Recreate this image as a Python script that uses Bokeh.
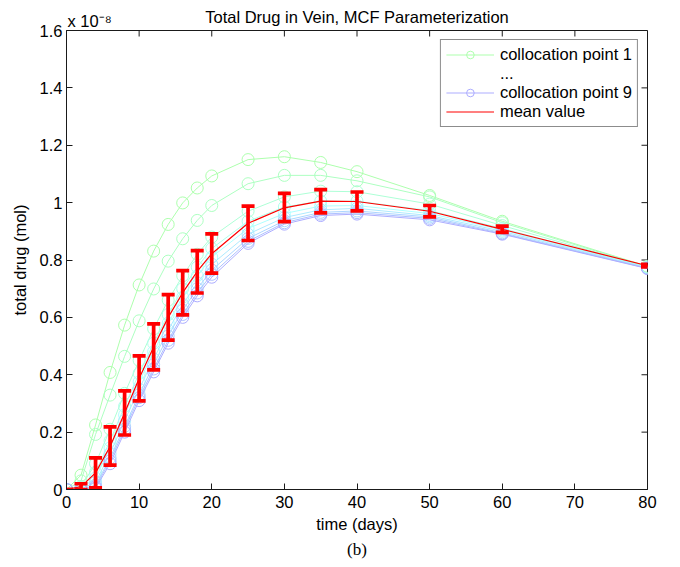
from bokeh.plotting import figure
from bokeh.models import Legend, LegendItem, FixedTicker, Title, Range1d
from bokeh.embed import file_html
from bokeh.resources import INLINE

# time (days)
days = [0, 2, 4, 6, 8, 10, 12, 14, 16, 18, 20, 25, 30, 35, 40, 50, 60, 80]

# total drug, in units of 1e-8 mol, collocation points 1..9
point_1 = [0, 0.05, 0.225, 0.408, 0.573, 0.713, 0.831, 0.924, 0.999, 1.051, 1.093, 1.15, 1.16, 1.14, 1.108, 1.025, 0.935, 0.778]
point_2 = [0, 0.03, 0.192, 0.329, 0.464, 0.588, 0.699, 0.796, 0.874, 0.938, 0.99, 1.066, 1.095, 1.095, 1.076, 1.02, 0.93, 0.777]
point_3 = [0, 0.01, 0.09, 0.21, 0.335, 0.45, 0.56, 0.66, 0.745, 0.82, 0.88, 0.97, 1.02, 1.04, 1.038, 0.995, 0.92, 0.776]
point_4 = [0, 0.006, 0.06, 0.17, 0.29, 0.405, 0.51, 0.61, 0.70, 0.775, 0.84, 0.935, 0.985, 1.005, 1.005, 0.972, 0.91, 0.775]
point_5 = [0, 0.004, 0.04, 0.145, 0.26, 0.375, 0.48, 0.58, 0.67, 0.745, 0.81, 0.91, 0.962, 0.988, 0.99, 0.962, 0.905, 0.774]
point_6 = [0, 0.002, 0.025, 0.125, 0.24, 0.35, 0.455, 0.555, 0.645, 0.72, 0.785, 0.89, 0.948, 0.975, 0.98, 0.955, 0.9, 0.773]
point_7 = [0, 0, 0.015, 0.11, 0.22, 0.33, 0.435, 0.535, 0.625, 0.70, 0.765, 0.875, 0.937, 0.966, 0.971, 0.95, 0.895, 0.772]
point_8 = [0, 0, 0.01, 0.1, 0.21, 0.32, 0.42, 0.52, 0.61, 0.685, 0.75, 0.865, 0.93, 0.96, 0.965, 0.945, 0.892, 0.771]
point_9 = [0, 0, 0.005, 0.09, 0.2, 0.31, 0.41, 0.51, 0.6, 0.675, 0.74, 0.858, 0.925, 0.955, 0.96, 0.94, 0.89, 0.77]

mean_value = [0, 0.01, 0.058, 0.15, 0.267, 0.387, 0.497, 0.60, 0.686, 0.76, 0.822, 0.928, 0.982, 1.005, 1.004, 0.97, 0.907, 0.78]
err_low = [0, 0.0, 0.006, 0.085, 0.19, 0.309, 0.417, 0.521, 0.609, 0.685, 0.754, 0.868, 0.934, 0.964, 0.971, 0.95, 0.896, 0.776]
err_high = [0, 0.02, 0.11, 0.218, 0.344, 0.466, 0.577, 0.679, 0.763, 0.833, 0.891, 0.988, 1.032, 1.045, 1.037, 0.99, 0.918, 0.785]

x_ticks = [0, 10, 20, 30, 40, 50, 60, 70, 80]
x_tick_labels = ["0", "10", "20", "30", "40", "50", "60", "70", "80"]
y_ticks = [0, 0.2, 0.4, 0.6, 0.8, 1.0, 1.2, 1.4, 1.6]
y_tick_labels = ["0", "0.2", "0.4", "0.6", "0.8", "1", "1.2", "1.4", "1.6"]

points = [point_1, point_2, point_3, point_4, point_5, point_6, point_7, point_8, point_9]

FONT = "Liberation Sans"
FS = "16.5px"
AXC = "#1a1a1a"
W, H = 680, 567
BL, BR, BT, BB = 66, 33, 30, 78
X0, X1, Y0, Y1 = 0, 80, 0, 1.6

p = figure(width=W, height=H, output_backend="svg", toolbar_location=None,
           x_range=Range1d(X0, X1), y_range=Range1d(Y0, Y1),
           min_border_left=BL, min_border_right=BR, min_border_top=BT, min_border_bottom=BB)
p.title = None
p.grid.visible = False
p.outline_line_color = AXC
p.outline_line_width = 1
p.background_fill_color = "white"
p.border_fill_color = "white"

def style_axis(ax, ticks, labels):
    ax.ticker = FixedTicker(ticks=ticks)
    ax.major_label_overrides = {t: l for t, l in zip(ticks, labels)}
    ax.major_tick_in = 6
    ax.major_tick_out = 0
    ax.minor_tick_line_color = None
    ax.axis_line_color = AXC
    ax.major_tick_line_color = AXC
    ax.major_label_text_font = FONT
    ax.major_label_text_font_size = FS
    ax.major_label_text_color = "black"
    ax.axis_label_text_font = FONT
    ax.axis_label_text_font_size = FS
    ax.axis_label_text_font_style = "normal"
    ax.axis_label_text_color = "black"

style_axis(p.xaxis[0], x_ticks, x_tick_labels)
style_axis(p.yaxis[0], y_ticks, y_tick_labels)
p.xaxis[0].axis_label = "time (days)"
p.xaxis[0].major_label_standoff = 6
p.xaxis[0].axis_label_standoff = 4
p.yaxis[0].axis_label = "total drug (mol)"
p.yaxis[0].major_label_standoff = 4
p.yaxis[0].axis_label_standoff = 8

# box ticks on top and right edges (same tick positions, 6 px inward)
tick_dx = 6 * (X1 - X0) / (W - BL - BR)
tick_dy = 6 * (Y1 - Y0) / (H - BT - BB)
p.segment(x0=x_ticks, y0=[Y1] * len(x_ticks), x1=x_ticks, y1=[Y1 - tick_dy] * len(x_ticks),
          line_color=AXC, line_width=1)
p.segment(x0=[X1] * len(y_ticks), y0=y_ticks, x1=[X1 - tick_dx] * len(y_ticks), y1=y_ticks,
          line_color=AXC, line_width=1)

# green -> cyan -> blue colour ramp, lightened
def light(i, n=9, mix=0.32):
    u = i / (n - 1)
    if u < 0.5:
        r, g, b = 0.0, 1.0, 2 * u
    else:
        r, g, b = 0.0, 2 - 2 * u, 1.0
    r, g, b = [1 - (1 - c) * mix for c in (r, g, b)]
    return "#%02x%02x%02x" % (int(r * 255), int(g * 255), int(b * 255))

line_r = []
scat_r = []
for i, vals in enumerate(points):
    c = light(i)
    lr = p.line(days, vals, line_color=c, line_width=1)
    sr = p.scatter(days, vals, marker="circle", size=12, fill_color=None,
                   line_color=c, line_width=1)
    line_r.append(lr)
    scat_r.append(sr)

mean_r = p.line(days, mean_value, line_color="red", line_width=1.2)
p.segment(x0=days, y0=err_low, x1=days, y1=err_high, line_color="red", line_width=3.7)
p.scatter(days, err_low, marker="dash", size=13, line_color="red", line_width=3.7)
p.scatter(days, err_high, marker="dash", size=13, line_color="red", line_width=3.7)

dots_r = p.line([X0], [Y0], line_alpha=0)

legend = Legend(items=[
    LegendItem(label="collocation point 1", renderers=[line_r[0], scat_r[0]]),
    LegendItem(label="...", renderers=[dots_r]),
    LegendItem(label="collocation point 9", renderers=[line_r[8], scat_r[8]]),
    LegendItem(label="mean value", renderers=[mean_r]),
], location="top_right")
legend.label_text_font = FONT
legend.label_text_font_size = FS
legend.label_text_color = "black"
legend.label_height = 19
legend.glyph_height = 19
legend.glyph_width = 48
legend.label_standoff = 6
legend.spacing = 0
legend.padding = 5
legend.margin = 9
legend.border_line_color = AXC
legend.border_line_width = 1
legend.background_fill_alpha = 1
p.add_layout(legend)

# axis multiplier (inner, next to the frame) and the main title (outer)
t_factor = Title(text="x 10\u207b\u2078", align="left", offset=1, standoff=2,
                 text_font=FONT, text_font_size=FS, text_font_style="normal",
                 text_color="black")
p.add_layout(t_factor, "above")
t_main = Title(text="Total Drug in Vein, MCF Parameterization", align="center",
               standoff=-34, text_font=FONT, text_font_size=FS,
               text_font_style="normal", text_color="black")
p.add_layout(t_main, "above")

sub = Title(text="(b)", align="center", text_font="Liberation Serif",
            text_font_size="17px", text_font_style="normal", text_color="black",
            standoff=4)
p.add_layout(sub, "below")

open("out.html", "w").write(file_html(p, INLINE))
